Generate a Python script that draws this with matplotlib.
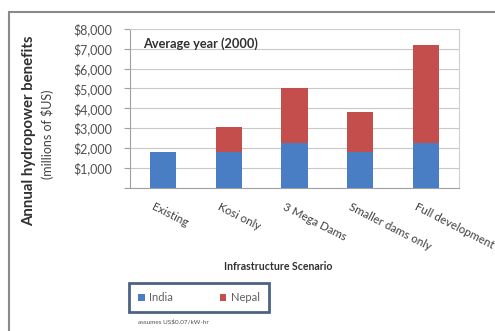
import matplotlib.pyplot as plt
from matplotlib.patches import Rectangle
from matplotlib.transforms import ScaledTranslation
from matplotlib.ticker import FuncFormatter

plt.rcParams["font.family"] = ["Lato", "DejaVu Sans"]

# Beneficios anuais por cenario (milhoes de US$)
cenarios = ["Existing", "Kosi only", "3 Mega Dams", "Smaller dams only", "Full development"]
india = [1780, 1770, 2250, 1800, 2260]
nepal = [0, 1260, 2750, 2020, 4940]

cor_india = "#4A7EC4"
cor_nepal = "#C44E4B"

fig = plt.figure(figsize=(4.95, 3.31), dpi=100)
ax = fig.add_axes([0.2626, 0.4335, 0.6646, 0.4789])

x = range(len(cenarios))
ax.bar(x, india, width=0.4, color=cor_india, label="India", zorder=3)
ax.bar(x, nepal, width=0.4, bottom=india, color=cor_nepal, label="Nepal", zorder=3)

ax.set_xlim(-0.5, len(cenarios) - 0.5)
ax.set_ylim(0, 8000)
ax.set_yticks(range(0, 8001, 1000))
ax.yaxis.set_major_formatter(FuncFormatter(lambda v, p: "" if v == 0 else f"${v:,.0f}"))
ax.grid(axis="y", color="#c8c8c8", linewidth=0.8, zorder=0)

for lado in ["top", "right"]:
    ax.spines[lado].set_color("#cfcfcf")
for lado in ["left", "bottom"]:
    ax.spines[lado].set_color("#a0a0a0")
ax.tick_params(axis="y", length=4, width=0.8, color="#a0a0a0", pad=9,
               labelsize=9, labelcolor="#505050")
ax.tick_params(axis="x", length=0, pad=0)

ax.set_xticks(list(x))
ax.set_xticklabels(cenarios, rotation=-27, ha="left", va="top", fontsize=8.3,
                   color="#404040")
deslocamento = ScaledTranslation(-0.13, -0.14, fig.dpi_scale_trans)
for rotulo in ax.get_xticklabels():
    rotulo.set_transform(rotulo.get_transform() + deslocamento)

ax.text(0.04, 0.91, "Average year (2000)", transform=ax.transAxes,
        fontsize=9.2, fontweight="bold", color="#303030", va="center")

fig.text(278 / 495, 1 - 267 / 331, "Infrastructure Scenario", ha="center", va="center",
         fontsize=7.6, fontweight="bold", color="#303030")
fig.text(29 / 495, 1 - 131 / 331, "Annual hydropower benefits", rotation=90,
         ha="center", va="center", fontsize=10.8, fontweight="bold", color="#303030")
fig.text(47 / 495, 1 - 134 / 331, "(millions of $US)", rotation=90,
         ha="center", va="center", fontsize=9, color="#404040")

leg = fig.legend(loc="center", bbox_to_anchor=(199 / 495, 1 - 297.5 / 331),
                 ncol=2, fontsize=8, frameon=True, fancybox=False,
                 handlelength=0.6, handleheight=0.6, handletextpad=0.4,
                 columnspacing=4.2, borderpad=0.8)
leg.get_frame().set_edgecolor("#1f3b66")
leg.get_frame().set_linewidth(2)
for t in leg.get_texts():
    t.set_color("#606060")

fig.text(173 / 495, 1 - 322 / 331, "assumes US$0.07/kW-hr", ha="center", va="center",
         fontsize=4.6, color="#505050")

# moldura externa do grafico
fig.patches.append(Rectangle((9 / 495, -0.1), 1.2, 0.1 + 1 - 12 / 331,
                             transform=fig.transFigure, fill=False,
                             edgecolor="#8a8a8a", linewidth=1.5, clip_on=False))

fig.savefig("out.png", dpi=100)
